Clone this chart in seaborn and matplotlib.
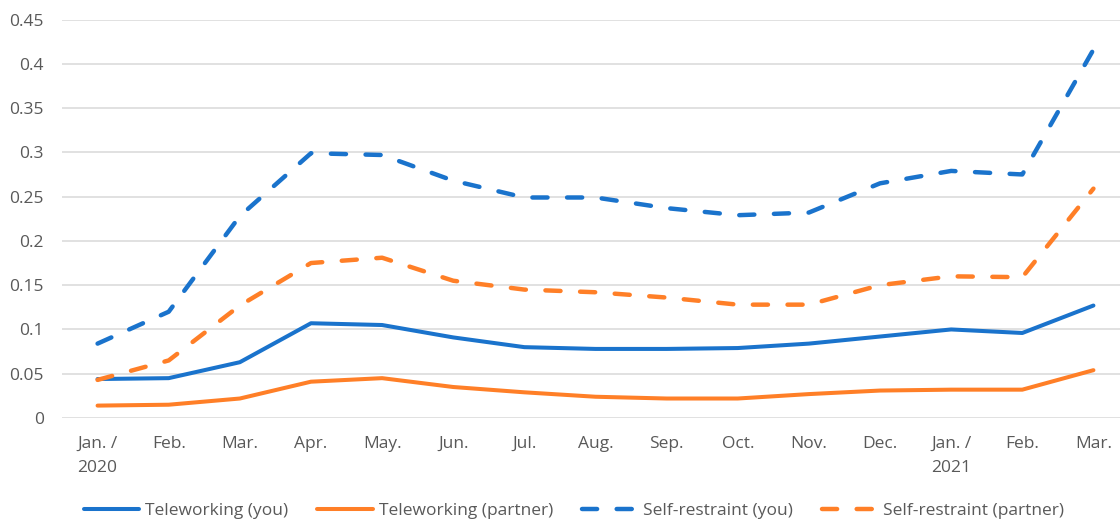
import numpy as np
import pandas as pd
import matplotlib
matplotlib.use("Agg")
import matplotlib.pyplot as plt
import seaborn as sns

# Monthly series, Jan 2020 - Mar 2021
months = ["Jan. /\n2020", "Feb.", "Mar.", "Apr.", "May.", "Jun.", "Jul.", "Aug.",
          "Sep.", "Oct.", "Nov.", "Dec.", "Jan. /\n2021", "Feb.", "Mar."]

tele_you = [0.044, 0.045, 0.063, 0.107, 0.105, 0.091, 0.080, 0.078,
            0.078, 0.079, 0.084, 0.092, 0.100, 0.096, 0.127]
tele_partner = [0.014, 0.015, 0.022, 0.041, 0.045, 0.035, 0.029, 0.024,
                0.022, 0.022, 0.027, 0.031, 0.032, 0.032, 0.054]
restraint_you = [0.084, 0.120, 0.228, 0.299, 0.297, 0.268, 0.249, 0.249,
                 0.237, 0.229, 0.232, 0.265, 0.279, 0.275, 0.416]
restraint_partner = [0.043, 0.065, 0.127, 0.175, 0.181, 0.155, 0.145, 0.142,
                     0.136, 0.128, 0.128, 0.150, 0.160, 0.159, 0.259]

series_names = ["Teleworking (you)", "Teleworking (partner)",
                "Self-restraint (you)", "Self-restraint (partner)"]
y_ticks = [0, 0.05, 0.1, 0.15, 0.2, 0.25, 0.3, 0.35, 0.4, 0.45]
y_tick_labels = ["0", "0.05", "0.1", "0.15", "0.2", "0.25", "0.3", "0.35", "0.4", "0.45"]

BLUE = "#1A73CC"
ORANGE = "#FF7F27"
TEXT = "#595959"
GRID = "#D9D9D9"

sns.set_theme(style="white")
plt.rcParams["font.family"] = ["Open Sans", "DejaVu Sans"]
plt.rcParams["lines.solid_capstyle"] = "round"
plt.rcParams["lines.dash_capstyle"] = "round"
plt.rcParams["lines.solid_joinstyle"] = "round"
plt.rcParams["lines.dash_joinstyle"] = "round"

x = np.arange(len(months))
df = pd.DataFrame({
    "x": x,
    series_names[0]: tele_you,
    series_names[1]: tele_partner,
    series_names[2]: restraint_you,
    series_names[3]: restraint_partner,
})

fig = plt.figure(figsize=(11.2, 5.21), dpi=100)
ax = fig.add_axes([62 / 1120, 103 / 521, 1067 / 1120, 398.5 / 521])

styles = [
    (series_names[0], BLUE, "-", 2.9),
    (series_names[1], ORANGE, "-", 2.9),
    (series_names[2], BLUE, (0, (3.4, 4.4)), 3.2),
    (series_names[3], ORANGE, (0, (3.4, 4.4)), 3.2),
]
for name, color, ls, lw in styles:
    sns.lineplot(data=df, x="x", y=name, ax=ax, color=color, linestyle=ls,
                 linewidth=lw, label=name, zorder=3)

ax.set_xlim(-0.5, len(months) - 0.5)
ax.set_ylim(0, 0.45)
ax.set_yticks(y_ticks)
ax.set_yticklabels(y_tick_labels)
ax.set_xticks(x)
ax.set_xticklabels(months, linespacing=1.7)
ax.set_xlabel("")
ax.set_ylabel("")
ax.grid(axis="y", color=GRID, linewidth=1.1, zorder=0)
ax.grid(axis="x", visible=False)
for sp in ax.spines.values():
    sp.set_visible(False)
ax.tick_params(axis="y", length=0, pad=13, labelsize=12.5, labelcolor=TEXT)
ax.tick_params(axis="x", length=0, pad=13, labelsize=12.5, labelcolor=TEXT)

handles, labels = ax.get_legend_handles_labels()
ax.legend(handles, labels, loc="center", bbox_to_anchor=(574 / 1120, 1 - 511 / 521),
          bbox_transform=fig.transFigure, ncol=4, frameon=False,
          fontsize=12.5, labelcolor=TEXT, handlelength=3.2, handletextpad=0.35,
          columnspacing=1.65)

fig.savefig("out.png", dpi=100, facecolor="white")
